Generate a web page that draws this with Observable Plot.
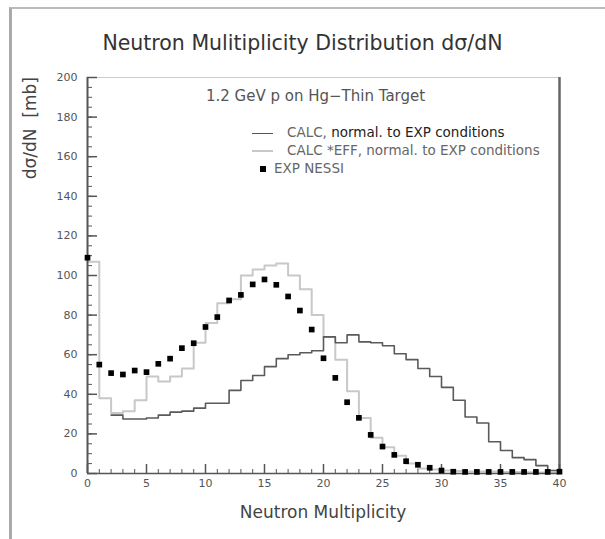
<!DOCTYPE html>
<html><head><meta charset="utf-8">
<script src="https://cdn.jsdelivr.net/npm/d3@7"></script>
<script src="https://cdn.jsdelivr.net/npm/@observablehq/plot@0.6"></script>
<style>
body{margin:0;background:#fff;}
#wrap{position:relative;width:605px;height:539px;overflow:hidden;font-family:"DejaVu Sans",sans-serif;color:#333;}
#frame{position:absolute;left:9px;top:7px;width:620px;height:560px;border-left:3px solid #aaa;border-top:2px solid #bbb;pointer-events:none;}
#chart{position:absolute;left:0;top:0;}
.t{position:absolute;white-space:nowrap;line-height:1;}
#title{left:0;width:605px;text-align:center;top:33px;font-size:20.5px;color:#333;}
#sub{left:206px;top:89px;font-size:15px;color:#555;}
#xlab{left:87px;width:472px;text-align:center;top:504px;font-size:17px;color:#444;}
#ylab{left:22px;top:77px;font-size:17px;color:#444;writing-mode:vertical-rl;transform:rotate(180deg);transform-origin:center;}
.leg{position:absolute;left:252px;font-size:13.5px;color:#666;white-space:nowrap;line-height:1;}
.sw{display:inline-block;width:21px;vertical-align:middle;margin-right:14px;}
</style></head>
<body>
<div id="wrap">
  <div id="chart"></div>
  <div id="frame"></div>
  <div class="t" id="title">Neutron Mulitiplicity Distribution dσ/dN</div>
  <div class="t" id="sub">1.2 GeV p on Hg−Thin Target</div>
  <div class="t" id="xlab">Neutron Multiplicity</div>
  <div class="t" id="ylab">dσ/dN&nbsp;&nbsp;[mb]</div>
  <div class="leg" id="leg1" style="top:126px"><span class="sw" style="border-top:1.5px solid #555"></span><span>CALC, </span><span style="color:#222">normal. to EXP conditions</span></div>
  <div class="leg" id="leg2" style="top:144px"><span class="sw" style="border-top:2px solid #c8c8c8"></span>CALC *EFF, normal. to EXP conditions</div>
  <div class="leg" id="leg3" style="top:162px"><span style="display:inline-block;width:6px;height:6px;background:#000;margin-left:8px;margin-right:8px;vertical-align:middle"></span>EXP NESSI</div>
</div>
<script>
// CALC, normal. to EXP conditions (dark histogram), bins start at N = 2, width 1
const calcStart = 2;
const calcValues = [29.5, 27.5, 27.5, 28, 29.5, 31, 31.5, 33, 35.5, 35.5,
  42, 47, 49.5, 54, 58, 60, 61, 62, 69, 66,
  70, 66.5, 66, 64.5, 60.5, 57.5, 53, 49, 43.5, 37,
  28.5, 25.5, 16, 11.6, 8, 7, 4, 1.5];
// CALC *EFF, normal. to EXP conditions (light histogram), bins start at N = 0
const effStart = 0;
const effValues = [107, 38, 30.5, 31.5, 37, 49, 46.5, 49, 53, 66,
  76, 86, 88, 100, 103, 105, 106, 100, 93, 80,
  69, 57.5, 41.5, 28, 18, 13.3, 9, 5, 2.5, 2,
  1.5, 1.2, 1, 1, 1, 0.8, 0.8, 0.6, 0.5, 0.5];
// EXP NESSI points
const expN = d3.range(0, 41);
const expValues = [109, 55, 50.7, 50, 52, 51.2, 55.4, 58, 63.3, 65.8,
  74, 79, 87.4, 90.2, 95.5, 98, 95.3, 89.4, 82.3, 72.7,
  58.2, 48.3, 36, 28.1, 19.5, 13.6, 9.4, 6.2, 4.4, 2.9,
  1.5, 0.9, 0.8, 0.8, 0.8, 0.8, 0.8, 0.8, 0.8, 0.8, 0.9];
const xTickLabels = d3.range(0, 41, 5);
const yTickLabels = d3.range(0, 201, 20);

function steps(start, vals){
  const pts = vals.map((v,i)=>({x:start+i, y:v}));
  pts.push({x:start+vals.length, y:vals[vals.length-1]});
  return pts;
}
const exp = expN.map((n,i)=>({x:n, y:expValues[i]}));

const W = 605, H = 539, mL = 87, mR = 46, mT = 77, mB = 66;
const fw = W - mL - mR, fh = H - mT - mB;

const chart = Plot.plot({
  width: W, height: H,
  marginLeft: mL, marginRight: mR, marginTop: mT, marginBottom: mB,
  style: {fontFamily: "DejaVu Sans, sans-serif", color: "#555", background: "transparent"},
  x: {domain: [0, 40]},
  y: {domain: [0, 200]},
  marks: [
    Plot.ruleY([200], {stroke: "#ccc", strokeWidth: 1}),
    Plot.ruleX([40], {stroke: "#666", strokeWidth: 2.5}),
    Plot.line(steps(effStart, effValues), {x: "x", y: "y", curve: "step-after", stroke: "#c8c8c8", strokeWidth: 2}),
    Plot.line(steps(calcStart, calcValues), {x: "x", y: "y", curve: "step-after", stroke: "#5a5a5a", strokeWidth: 1.6}),
    Plot.tickX(d3.range(0, 41), {x: d => d, insetTop: fh - 4, stroke: "#555"}),
    Plot.tickX(xTickLabels, {x: d => d, insetTop: fh - 9, stroke: "#555", strokeWidth: 1.5}),
    Plot.tickY(d3.range(0, 201, 5), {y: d => d, insetRight: fw - 5, stroke: "#555"}),
    Plot.tickY(yTickLabels, {y: d => d, insetRight: fw - 10, stroke: "#555", strokeWidth: 1.5}),
    Plot.ruleX([0], {stroke: "#555", strokeWidth: 2}),
    Plot.ruleY([0], {stroke: "#555", strokeWidth: 1.5}),
    Plot.dot(exp, {x: "x", y: "y", symbol: "square", r: 3.2, fill: "#000", stroke: "none"}),
    Plot.axisX({ticks: xTickLabels, tickSize: 0, tickPadding: 6, fontSize: 11, label: null, fill: "#555"}),
    Plot.axisY({ticks: yTickLabels, tickSize: 0, tickPadding: 10, fontSize: 11, label: null, fill: "#555"})
  ]
});
document.getElementById("chart").appendChild(chart);
</script>
</body></html>
